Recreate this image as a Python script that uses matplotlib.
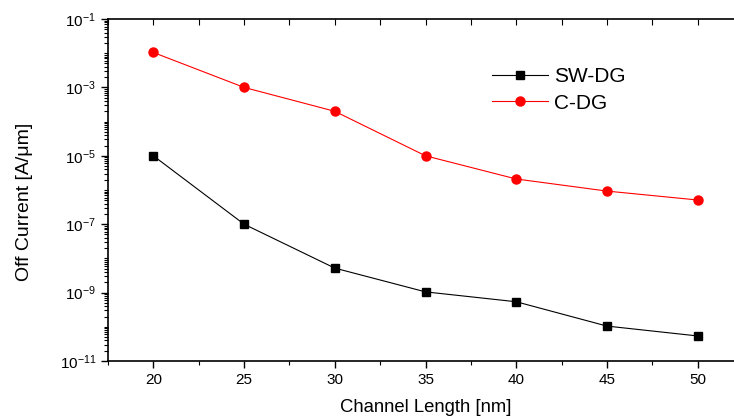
import numpy as np
import matplotlib
matplotlib.use("Agg")
import matplotlib.pyplot as plt
from matplotlib.ticker import LogLocator, MultipleLocator, FixedLocator, NullFormatter

plt.rcParams['font.family'] = ['Liberation Sans', 'DejaVu Sans']

length = [20, 25, 30, 35, 40, 45, 50]
sw_dg = [1.0e-5, 1.0e-7, 5.2e-9, 1.05e-9, 5.4e-10, 1.05e-10, 5.4e-11]
c_dg = [1.05e-2, 1.0e-3, 2.0e-4, 1.0e-5, 2.1e-6, 9.3e-7, 5.1e-7]
ytick_exp = list(range(-11, 0, 2))

fig = plt.figure(figsize=(7.34, 4.16), dpi=100)
ax = fig.add_axes([108/734, 1 - 361/416, 635/734, 342/416])

ax.plot(length, sw_dg, color="black", lw=0.8, marker="s", ms=6, label="SW-DG")
ax.plot(length, c_dg, color="red", lw=0.8, marker="o", ms=6.5, label="C-DG")

ax.set_yscale("log")
ax.set_ylim(1e-11, 1e-1)
ax.set_xlim(17.5, 52.5)
ax.yaxis.set_major_locator(FixedLocator([10.0**k for k in ytick_exp]))
ax.yaxis.set_minor_locator(LogLocator(base=10, subs=np.arange(1, 10) * 1.0, numticks=30))
ax.yaxis.set_minor_formatter(NullFormatter())
ax.set_yticklabels([r"$\mathregular{10^{%d}}$" % k for k in ytick_exp])
ax.xaxis.set_major_locator(MultipleLocator(5))
ax.xaxis.set_minor_locator(MultipleLocator(2.5))

ax.tick_params(which="major", direction="out", length=5, width=1, labelsize=11, top=False)
ax.tick_params(which="minor", direction="out", length=3, width=0.8)
for s in ax.spines.values():
    s.set_linewidth(1.2)
ax.spines["right"].set_visible(False)

# inward ticks on the top edge
top = ax.secondary_xaxis("top")
top.xaxis.set_major_locator(MultipleLocator(5))
top.xaxis.set_minor_locator(MultipleLocator(2.5))
top.tick_params(which="both", direction="in", labeltop=False, length=4, width=0.8)
top.spines["top"].set_visible(False)

ax.set_xlabel("Channel Length [nm]", fontsize=13.3, labelpad=9)
ax.set_ylabel("Off Current [A/\u03bcm]", fontsize=14)
ax.yaxis.set_label_coords(-0.118, 0.465)

ax.legend(loc="upper left", bbox_to_anchor=(0.575, 0.915), frameon=False, fontsize=15,
          handlelength=2.7, handletextpad=0.3, labelspacing=0.38)

fig.savefig("out.png", dpi=100)
